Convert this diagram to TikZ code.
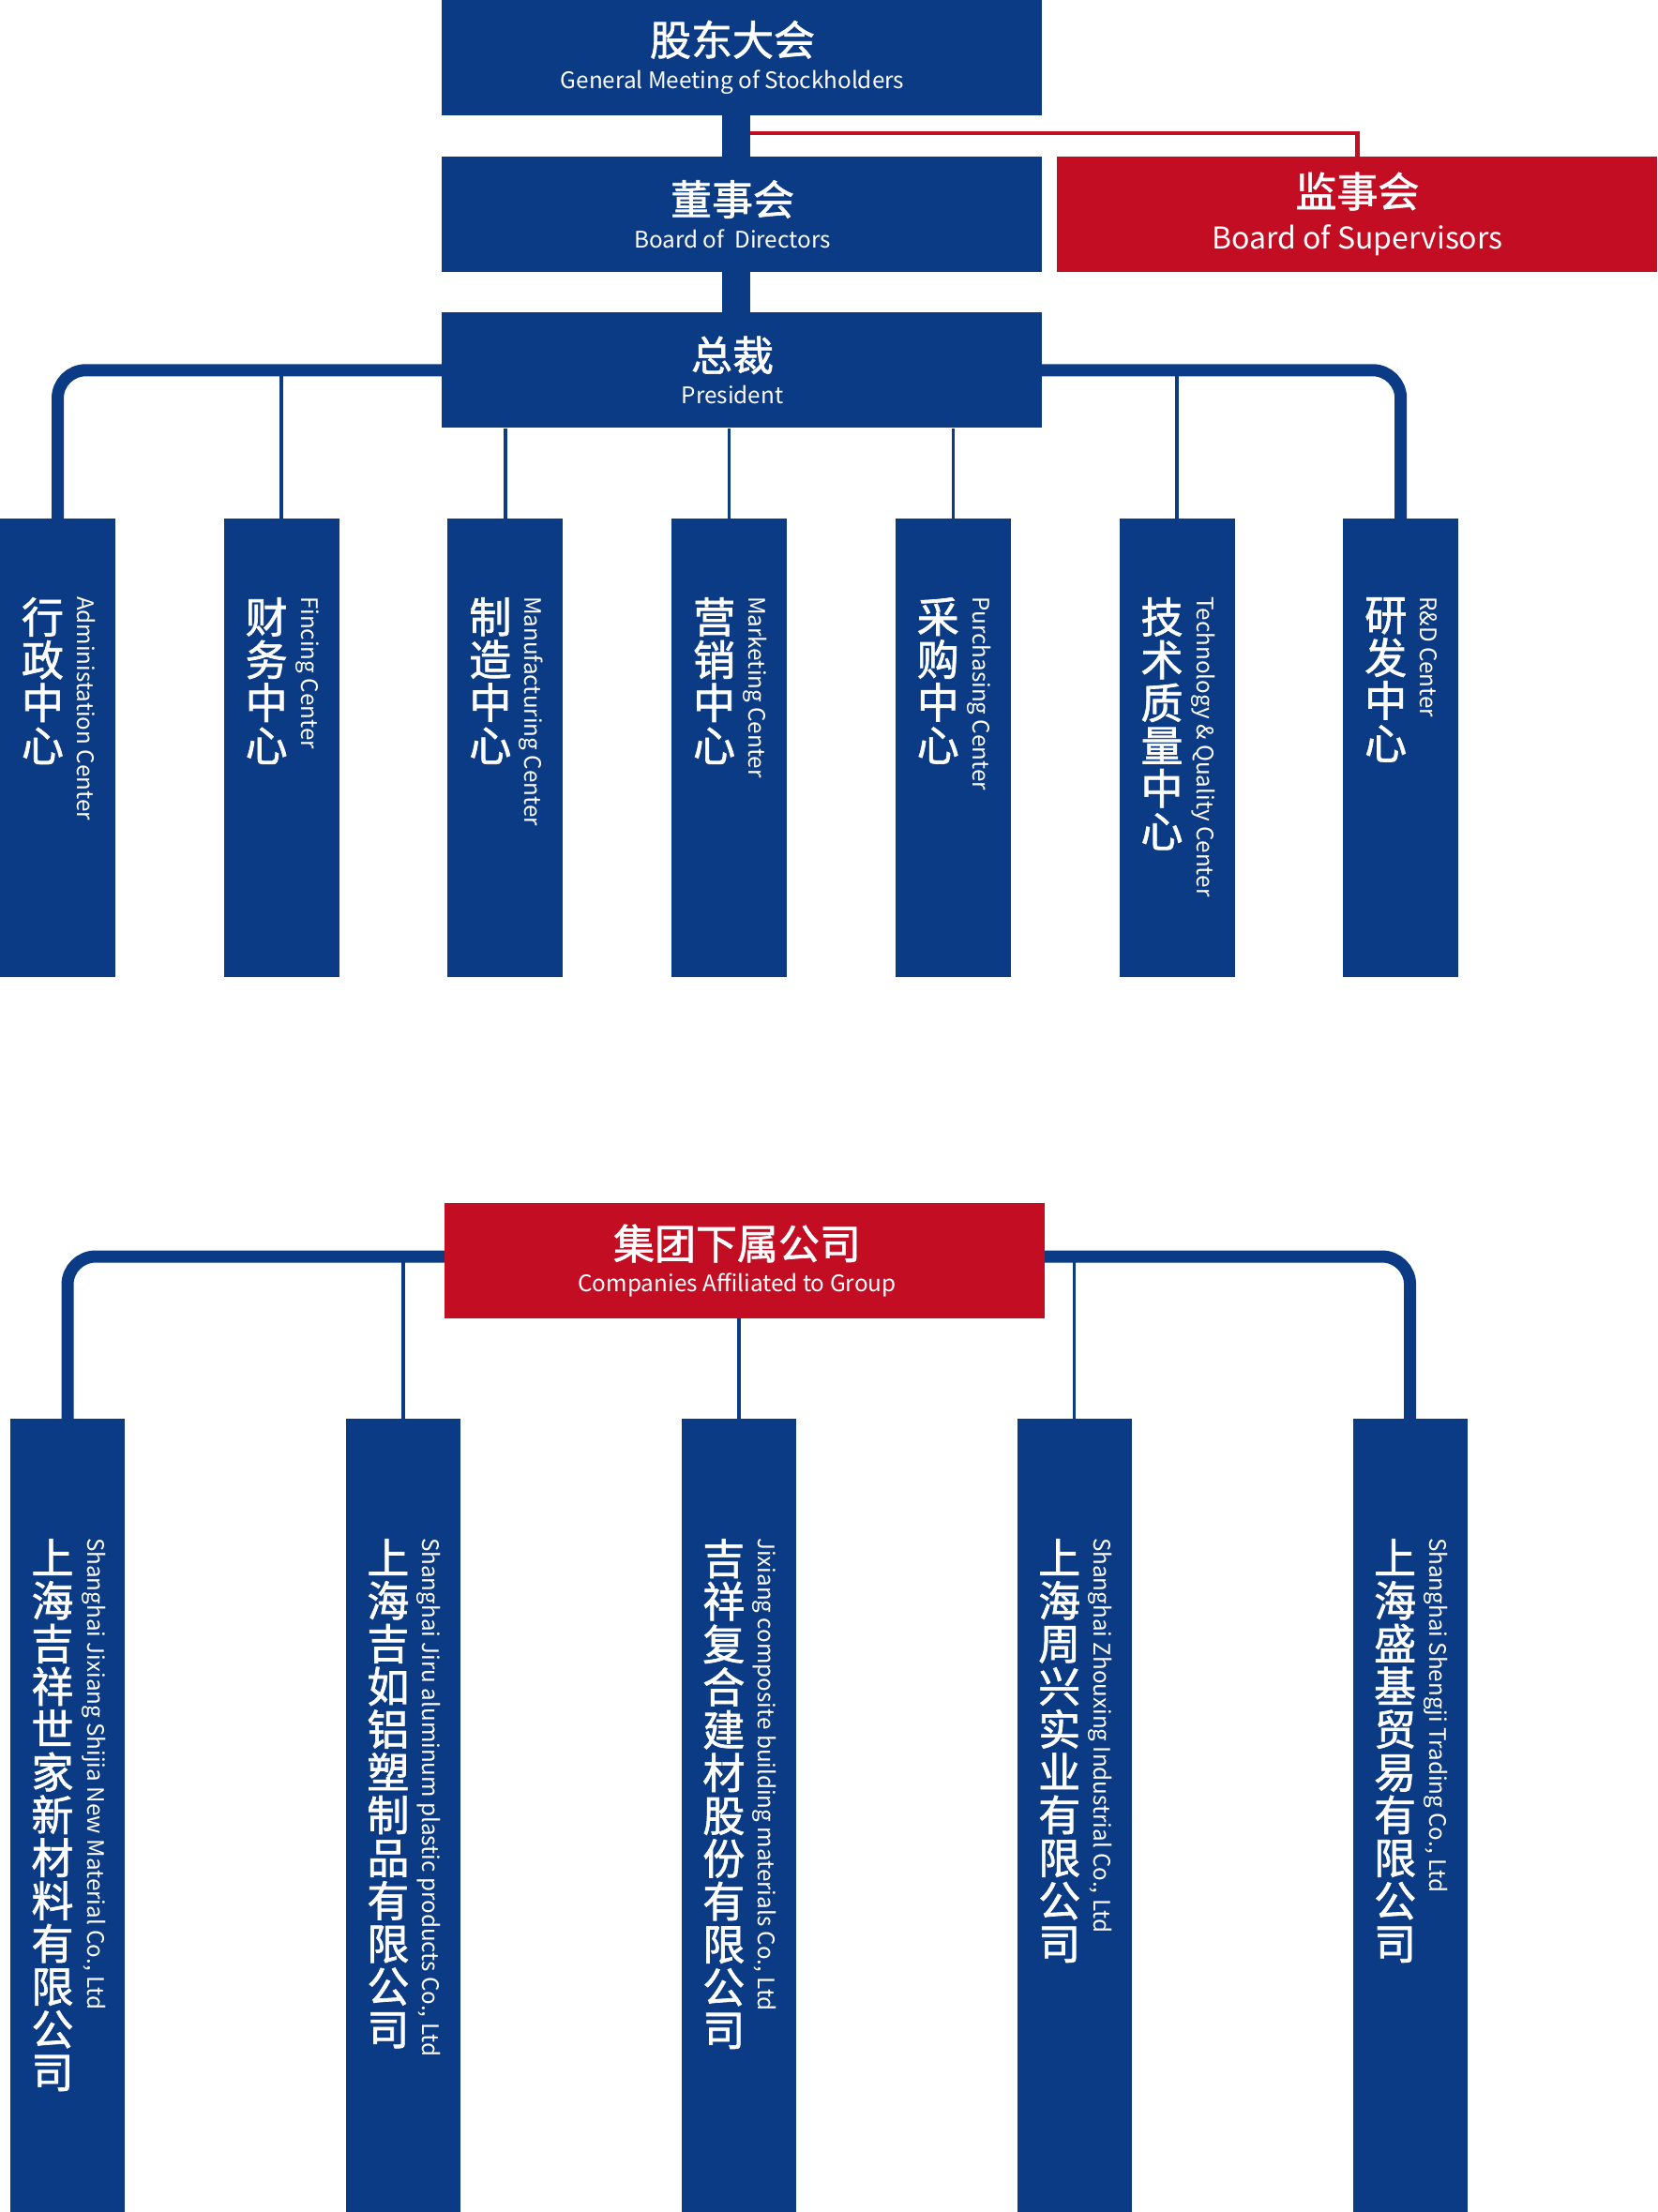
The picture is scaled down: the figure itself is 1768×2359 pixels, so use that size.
\documentclass[tikz,border=0pt]{standalone}
\usepackage{fontspec}
\setmainfont{Noto Sans CJK SC}
\newfontfamily\cnmid{Noto Sans CJK SC}[FakeBold=1.5]
\usepackage{xcolor}
\usetikzlibrary{positioning}
\definecolor{navy1}{RGB}{12,59,133}
\definecolor{red1}{RGB}{194,13,35}
\newcommand{\cnbig}{\cnmid\fontsize{44}{44}\selectfont}

\begin{document}
\begin{tikzpicture}[
    x=1pt, y=-1pt,
    head/.style={fill=navy1, minimum width=640pt, minimum height=123pt, inner sep=0pt},
    redhead/.style={head, fill=red1},
    headtext/.style={text=white, align=center, inner sep=0pt, font=\fontsize{24.3}{35}\selectfont},
    bigtext/.style={headtext, font=\fontsize{32}{45}\selectfont},
    dept/.style={fill=navy1, minimum width=123pt, minimum height=489pt, inner sep=0pt, anchor=north},
    comp/.style={fill=navy1, minimum width=122pt, minimum height=850pt, inner sep=0pt, anchor=north},
    cnv/.style={text=white, align=center, inner sep=0pt, anchor=north,
                font=\cnmid\fontsize{45}{45.7}\selectfont},
    env/.style={text=white, inner sep=0pt, rotate=-90, anchor=base west,
                font=\fontsize{24.2}{26}\selectfont},
    trunk/.style={navy1, line width=30pt},
    bus/.style={navy1, line width=13pt, rounded corners=30pt},
    stem/.style={navy1, line width=3.5pt},
    redline/.style={red1, line width=4.5pt}
]
    \useasboundingbox (0,0) rectangle (1768,2359);

    % governance
    \node[head] (gm) at (791,61) {};
    \node[head, below=44pt of gm] (bod) {};
    \node[redhead, right=16pt of bod] (sup) {};
    \node[head, below=43pt of bod] (pres) {};

    \node[headtext] (gmtx) at ([xshift=-10pt]gm.center) {{\cnbig 股东大会}\\General Meeting of Stockholders};
    \node[headtext] (bodtx) at ([xshift=-10pt]bod.center) {{\cnbig 董事会}\\Board of\ \ Directors};
    \node[bigtext] (suptx) at (sup.center) {{\cnbig 监事会}\\Board of Supervisors};
    \node[headtext] (prestx) at ([xshift=-10pt]pres.center) {{\cnbig 总裁}\\President};

    % centres
    \node[dept] (adm) at (61.5,553) {};
    \node[dept, right=115.3pt of adm] (fin) {};
    \node[dept, right=115.3pt of fin] (mfg) {};
    \node[dept, right=115.3pt of mfg] (mkt) {};
    \node[dept, right=115.3pt of mkt] (pur) {};
    \node[dept, right=115.3pt of pur] (tqc) {};
    \node[dept, right=115.3pt of tqc] (rnd) {};

    \node[cnv] (admcn) at ([xshift=-16pt, yshift=-84pt]adm.north) {行\\政\\中\\心};
    \node[cnv] (fincn) at ([xshift=-16pt, yshift=-84pt]fin.north) {财\\务\\中\\心};
    \node[cnv] (mfgcn) at ([xshift=-16pt, yshift=-84pt]mfg.north) {制\\造\\中\\心};
    \node[cnv] (mktcn) at ([xshift=-16pt, yshift=-84pt]mkt.north) {营\\销\\中\\心};
    \node[cnv] (purcn) at ([xshift=-16pt, yshift=-84pt]pur.north) {采\\购\\中\\心};
    \node[cnv] (tqccn) at ([xshift=-16pt, yshift=-84pt]tqc.north) {技\\术\\质\\量\\中\\心};
    \node[cnv] (rndcn) at ([xshift=-16pt, yshift=-84pt]rnd.north) {研\\发\\中\\心};

    \node[env] (admen) at ([xshift=21pt, yshift=-83pt]adm.north) {Administation Center};
    \node[env] (finen) at ([xshift=21pt, yshift=-83pt]fin.north) {Fincing Center};
    \node[env] (mfgen) at ([xshift=21pt, yshift=-83pt]mfg.north) {Manufacturing Center};
    \node[env] (mkten) at ([xshift=21pt, yshift=-83pt]mkt.north) {Marketing Center};
    \node[env] (puren) at ([xshift=21pt, yshift=-83pt]pur.north) {Purchasing Center};
    \node[env] (tqcen) at ([xshift=21pt, yshift=-83pt]tqc.north) {Technology \& Quality Center};
    \node[env] (rnden) at ([xshift=21pt, yshift=-83pt]rnd.north) {R\&D Center};

    % group companies
    \node[redhead] (grp) at (794,1344.5) {};
    \node[headtext] (grptx) at ([xshift=-8pt]grp.center) {{\cnbig 集团下属公司}\\Companies Affiliated to Group};

    \node[comp] (c1) at (72,1513) {};
    \node[comp, right=235.5pt of c1] (c2) {};
    \node[comp, right=235.5pt of c2] (c3) {};
    \node[comp, right=235.5pt of c3] (c4) {};
    \node[comp, right=235.5pt of c4] (c5) {};

    \node[cnv] (c1cn) at ([xshift=-16pt, yshift=-128pt]c1.north) {上\\海\\吉\\祥\\世\\家\\新\\材\\料\\有\\限\\公\\司};
    \node[cnv] (c2cn) at ([xshift=-16pt, yshift=-128pt]c2.north) {上\\海\\吉\\如\\铝\\塑\\制\\品\\有\\限\\公\\司};
    \node[cnv] (c3cn) at ([xshift=-16pt, yshift=-128pt]c3.north) {吉\\祥\\复\\合\\建\\材\\股\\份\\有\\限\\公\\司};
    \node[cnv] (c4cn) at ([xshift=-16pt, yshift=-128pt]c4.north) {上\\海\\周\\兴\\实\\业\\有\\限\\公\\司};
    \node[cnv] (c5cn) at ([xshift=-16pt, yshift=-128pt]c5.north) {上\\海\\盛\\基\\贸\\易\\有\\限\\公\\司};

    \node[env] (c1en) at ([xshift=21pt, yshift=-127pt]c1.north) {Shanghai Jixiang Shijia New Material Co., Ltd};
    \node[env] (c2en) at ([xshift=21pt, yshift=-127pt]c2.north) {Shanghai Jiru aluminum plastic products Co., Ltd};
    \node[env] (c3en) at ([xshift=21pt, yshift=-127pt]c3.north) {Jixiang composite building materials Co., Ltd};
    \node[env] (c4en) at ([xshift=21pt, yshift=-127pt]c4.north) {Shanghai Zhouxing Industrial Co., Ltd};
    \node[env] (c5en) at ([xshift=21pt, yshift=-127pt]c5.north) {Shanghai Shengji Trading Co., Ltd};

    % connectors
    \coordinate (split) at (785,142);
    \draw[redline] (split) -| (sup.north);
    \draw[trunk] ([xshift=-6pt]gm.south) -- ([xshift=-6pt]bod.north);
    \draw[trunk] ([xshift=-6pt]bod.south) -- ([xshift=-6pt]pres.north);

    \draw[bus] (adm.north) |- (pres.west);
    \draw[bus] (pres.east) -| (rnd.north);
    \draw[stem] (fin.north) -- (fin.north |- pres.west);
    \draw[stem] (pres.south -| mfg.north) -- (mfg.north);
    \draw[stem] (pres.south -| mkt.north) -- (mkt.north);
    \draw[stem] (pres.south -| pur.north) -- (pur.north);
    \draw[stem] (tqc.north) -- (tqc.north |- pres.east);

    \draw[bus] (c1.north) |- ([yshift=4.5pt]grp.west);
    \draw[bus] ([yshift=4.5pt]grp.east) -| (c5.north);
    \draw[stem] (c2.north) -- (c2.north |- grp.west);
    \draw[stem] (grp.south -| c3.north) -- (c3.north);
    \draw[stem] (c4.north) -- (c4.north |- grp.east);
\end{tikzpicture}
\end{document}
